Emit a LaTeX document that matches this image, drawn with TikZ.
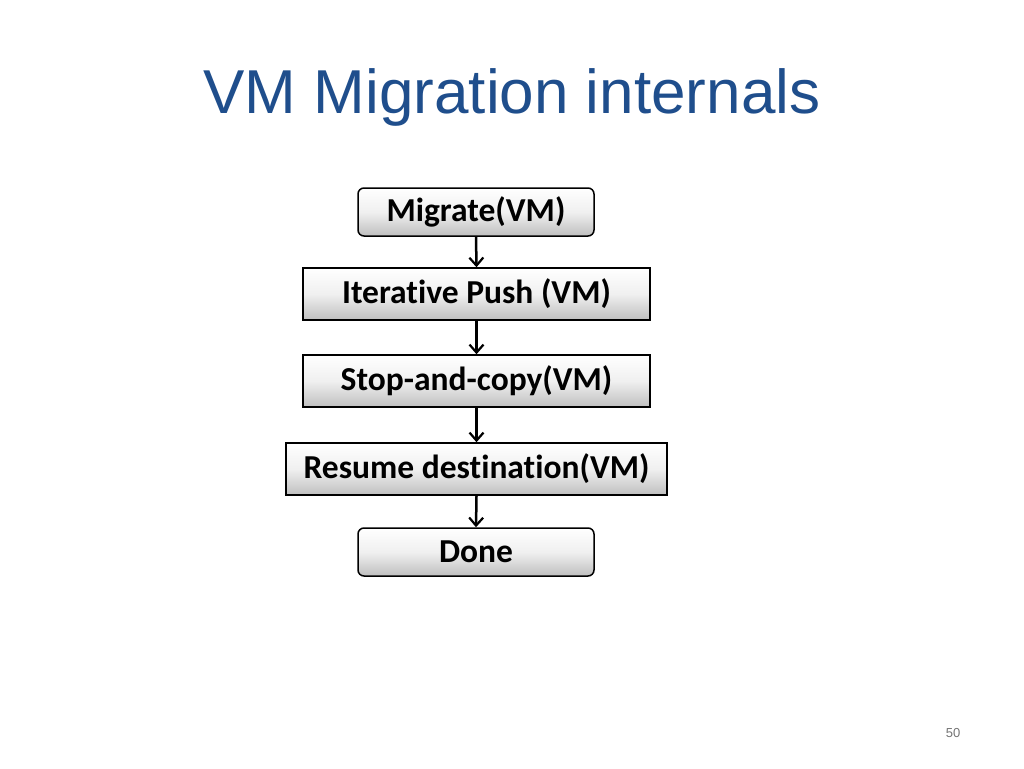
\documentclass[tikz,border=0pt]{standalone}
\usepackage{fontspec}
\setmainfont[Ligatures=NoCommon]{Carlito}
\newfontfamily\arialf{Liberation Sans}
\usetikzlibrary{arrows.meta}
\definecolor{titleblue}{HTML}{1F4E8C}
\begin{document}
\begin{tikzpicture}[x=1pt,y=-1pt,
  boxsq/.style={draw=black,line width=1.5pt,top color=white,bottom color=black!25,middle color=black!6,font=\bfseries\fontsize{33.5}{36}\selectfont},
  boxrd/.style={boxsq,rounded corners=6pt},
  arr/.style={-{Straight Barb[length=8pt,width=14pt,line width=2.2pt]},line width=2.5pt}]
\useasboundingbox (0,0) rectangle (1024,768);
\node[text=titleblue,font=\arialf\fontsize{62}{68}\selectfont] (title) at (512,97) {VM Migration internals};
\node[boxrd,minimum width=236pt,minimum height=48pt,inner sep=0pt] (a) at (476,212) {Migrate(VM)};
\node[boxsq,minimum width=347pt,minimum height=52pt,inner sep=0pt] (b) at (476.5,294) {Iterative Push (VM)};
\node[boxsq,minimum width=347pt,minimum height=52pt,inner sep=0pt] (c) at (476.5,381) {Stop-and-copy(VM)};
\node[boxsq,minimum width=381pt,minimum height=52pt,inner sep=0pt] (d) at (476.5,469) {Resume destination(VM)};
\node[boxrd,minimum width=236pt,minimum height=48pt,inner sep=0pt] (e) at (476,552) {Done};
\draw[arr] (a.south) -- (b.north);
\draw[arr] (b.south) -- (c.north);
\draw[arr] (c.south) -- (d.north);
\draw[arr] (d.south) -- (e.north);
\node[text=black!55,font=\arialf\fontsize{13}{15}\selectfont] (pg) at (953,733) {50};
\end{tikzpicture}
\end{document}
